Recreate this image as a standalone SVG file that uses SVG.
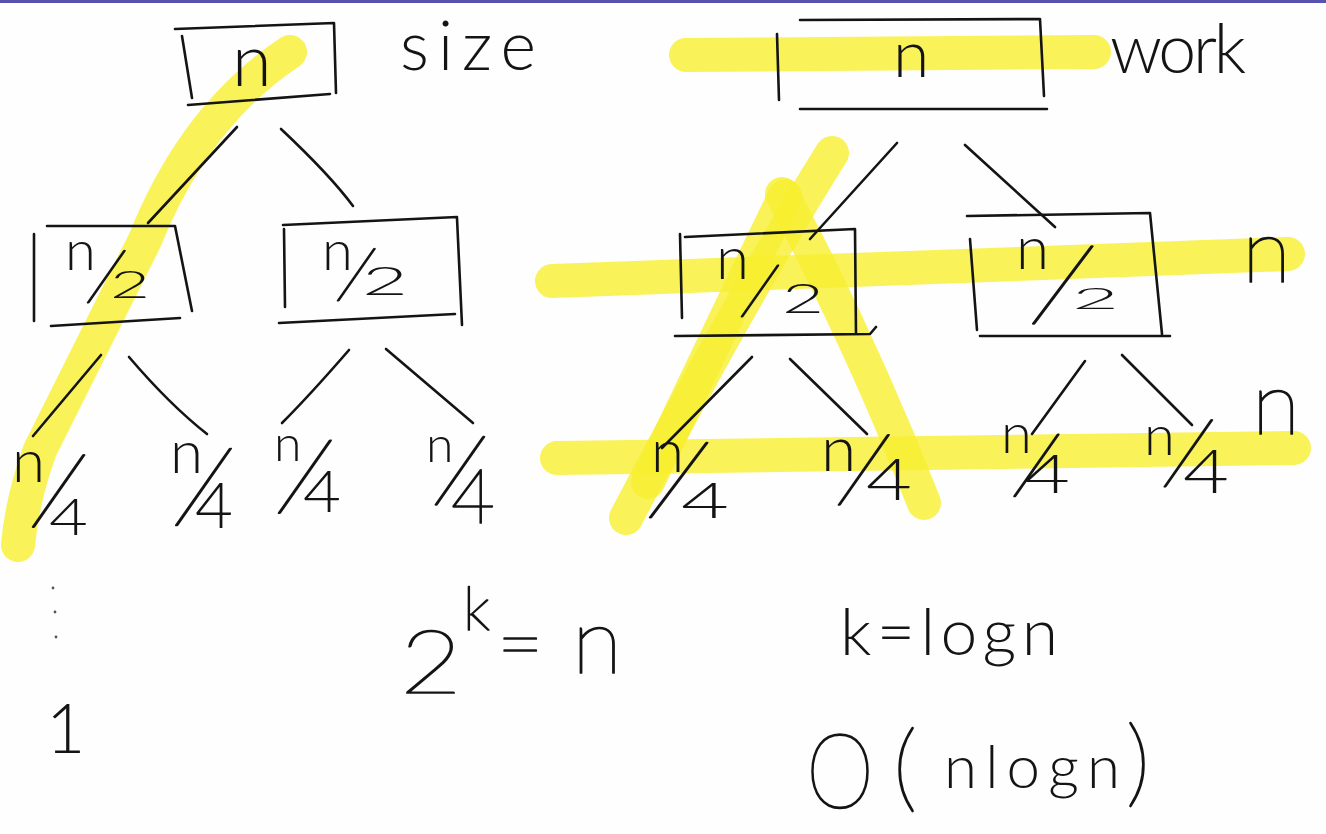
<svg xmlns="http://www.w3.org/2000/svg" width="1326" height="834" viewBox="0 0 1326 834">
<style>
.ink{stroke:#141414;stroke-width:2.6;fill:none;stroke-linecap:round;stroke-linejoin:round}
.hl{stroke:#f7ef30;stroke-width:34;fill:none;stroke-linecap:round;stroke-linejoin:round;opacity:0.8}
.t{font-family:Lato,"Liberation Sans",sans-serif;font-weight:300;fill:#141414}
.th{font-weight:200;stroke:#141414;stroke-width:1.7;stroke-linejoin:round}
</style>
<rect x="0" y="0" width="1326" height="834" fill="#fefefe"/>
<rect x="0" y="0" width="1326" height="3" fill="#5552b0"/>
<g id="highlights">
<path class="hl" d="M290,52 Q195,115 145,240 L40,450 Q22,500 18,545"/>
<path class="hl" d="M686,55 L1094,52"/>
<path class="hl" d="M552,281 L1288,254"/>
<path class="hl" d="M557,458 L1294,448"/>
<path class="hl" d="M832,153 Q740,300 626,518"/>
<path class="hl" d="M785,196 Q720,330 648,482"/>
<path class="hl" d="M782,194 Q860,340 924,503"/>
</g>
<g id="connectors">
<path class="ink" d="M237,127 L148,223"/>
<path class="ink" d="M281,129 Q330,175 353,206"/>
<path class="ink" d="M101,355 L33,436"/>
<path class="ink" d="M129,357 Q170,405 207,434"/>
<path class="ink" d="M349,350 Q310,395 282,423"/>
<path class="ink" d="M386,349 L473,423"/>
<path class="ink" d="M897,143 L810,239"/>
<path class="ink" d="M965,145 L1055,227"/>
<path class="ink" d="M752,357 L662,448"/>
<path class="ink" d="M790,359 L867,434"/>
<path class="ink" d="M1085,361 L1032,434"/>
<path class="ink" d="M1122,355 L1192,425"/>
</g>
<g id="node-size-root">
<path class="ink" d="M175,29 L334,23 M182,36 L192,98 M334,23 L336,93 M188,105 L330,94"/>
<text class="t" x="232" y="86" font-size="72">n</text>
</g>
<g id="label-size"><text class="t" x="400" y="70" font-size="68" textLength="136" lengthAdjust="spacing">size</text></g>
<g id="node-size-half-left">
<path class="ink" d="M34,234 L34,321 M47,226 L175,226 L192,311 M51,326 L180,318"/>
<text class="t"><tspan x="65" y="270" font-size="56">n</tspan><tspan class="th" x="85" y="299" font-size="77" rotate="12">/</tspan><tspan x="110" y="298" font-size="37" textLength="40" lengthAdjust="spacingAndGlyphs">2</tspan></text>
</g>
<g id="node-size-half-right">
<path class="ink" d="M283,225 L457,217 M284,229 L285,307 M457,218 L462,325 M279,323 L455,314"/>
<text class="t"><tspan x="322" y="270" font-size="56">n</tspan><tspan class="th" x="335" y="297" font-size="77" rotate="12">/</tspan><tspan x="362" y="295" font-size="39" textLength="46" lengthAdjust="spacingAndGlyphs">2</tspan></text>
</g>
<g id="node-size-q1"><text class="t"><tspan x="12" y="482" font-size="60">n</tspan><tspan class="th" x="29" y="522" font-size="107" rotate="12">/</tspan><tspan x="49" y="535" font-size="51" textLength="39" lengthAdjust="spacingAndGlyphs">4</tspan></text></g>
<g id="node-size-q2"><text class="t"><tspan x="170" y="473" font-size="60">n</tspan><tspan class="th" x="172" y="520" font-size="114" rotate="12">/</tspan><tspan x="195" y="528" font-size="64" textLength="38" lengthAdjust="spacingAndGlyphs">4</tspan></text></g>
<g id="node-size-q3"><text class="t"><tspan x="274" y="461" font-size="50">n</tspan><tspan class="th" x="275" y="508" font-size="108" rotate="12">/</tspan><tspan x="303" y="512" font-size="58" textLength="38" lengthAdjust="spacingAndGlyphs">4</tspan></text></g>
<g id="node-size-q4"><text class="t"><tspan x="426" y="462" font-size="50">n</tspan><tspan class="th" x="432" y="500" font-size="101" rotate="12">/</tspan><tspan class="th" x="451" y="523" font-size="76" textLength="44" lengthAdjust="spacingAndGlyphs">4</tspan></text></g>
<g id="dots"><circle cx="53" cy="588" r="1.4" fill="#555"/><circle cx="55" cy="612" r="1.4" fill="#555"/><circle cx="56" cy="637" r="1.4" fill="#555"/></g>
<g id="label-one"><text class="t" x="46" y="753" font-size="68">1</text></g>
<g id="node-work-root">
<path class="ink" d="M777,34 L779,100 M800,20 L1040,19 L1044,96 M800,109 L1047,109"/>
<text class="t" x="893" y="77" font-size="66">n</text>
</g>
<g id="label-work"><text class="t" x="1110" y="73" font-size="68" textLength="136" lengthAdjust="spacing">work</text></g>
<g id="node-work-half-left">
<path class="ink" d="M680,234 L682,318 M685,237 L855,229 L856,334 M675,336 L870,334 L876,327"/>
<text class="t"><tspan x="716" y="279" font-size="60">n</tspan><tspan class="th" x="739" y="313" font-size="76" rotate="12">/</tspan><tspan x="782" y="313" font-size="42" textLength="42" lengthAdjust="spacingAndGlyphs">2</tspan></text>
</g>
<g id="node-work-half-right">
<path class="ink" d="M967,216 L1150,213 L1162,334 M970,239 L977,330 M980,336 L1170,336"/>
<text class="t"><tspan x="1016" y="269" font-size="60">n</tspan><tspan class="th" x="1029" y="318" font-size="118" rotate="14">/</tspan><tspan x="1072" y="309" font-size="30" textLength="47" lengthAdjust="spacingAndGlyphs">2</tspan></text>
</g>
<g id="node-work-q1"><text class="t"><tspan x="651" y="472" font-size="60">n</tspan><tspan class="th" x="646" y="512" font-size="114" rotate="14">/</tspan><tspan x="681" y="518" font-size="50" textLength="48" lengthAdjust="spacingAndGlyphs">4</tspan></text></g>
<g id="node-work-q2"><text class="t"><tspan x="821" y="471" font-size="64">n</tspan><tspan class="th" x="835" y="500" font-size="104" rotate="12">/</tspan><tspan x="866" y="500" font-size="58" textLength="46" lengthAdjust="spacingAndGlyphs">4</tspan></text></g>
<g id="node-work-q3"><text class="t"><tspan x="1001" y="453" font-size="56">n</tspan><tspan class="th" x="1011" y="492" font-size="92" rotate="12">/</tspan><tspan x="1024" y="493" font-size="53" textLength="46" lengthAdjust="spacingAndGlyphs">4</tspan></text></g>
<g id="node-work-q4"><text class="t"><tspan x="1144" y="455" font-size="56">n</tspan><tspan class="th" x="1161" y="482" font-size="99" rotate="12">/</tspan><tspan x="1183" y="493" font-size="62" textLength="46" lengthAdjust="spacingAndGlyphs">4</tspan></text></g>
<g id="label-level1"><text class="t th" x="1242" y="282" font-size="90">n</text></g>
<g id="label-level2"><text class="t th" x="1252" y="434" font-size="88">n</text></g>
<g id="eq-power"><text class="t th"><tspan x="400" y="693" font-size="88" textLength="62" lengthAdjust="spacingAndGlyphs">2</tspan><tspan x="463" y="630" font-size="60">k</tspan><tspan x="497" y="672" font-size="80">=</tspan><tspan x="572" y="673" font-size="92">n</tspan></text></g>
<g id="eq-log"><text class="t" x="840" y="655" font-size="66" textLength="218" lengthAdjust="spacing">k=logn</text></g>
<g id="eq-bigo"><text class="t"><tspan class="th" x="806" y="808" font-size="104" textLength="68" lengthAdjust="spacingAndGlyphs">O</tspan><tspan class="th" x="893" y="800" font-size="96">(</tspan><tspan x="944" y="788" font-size="60" textLength="176" lengthAdjust="spacing">nlogn</tspan><tspan class="th" x="1126" y="795" font-size="96">)</tspan></text></g>
</svg>
